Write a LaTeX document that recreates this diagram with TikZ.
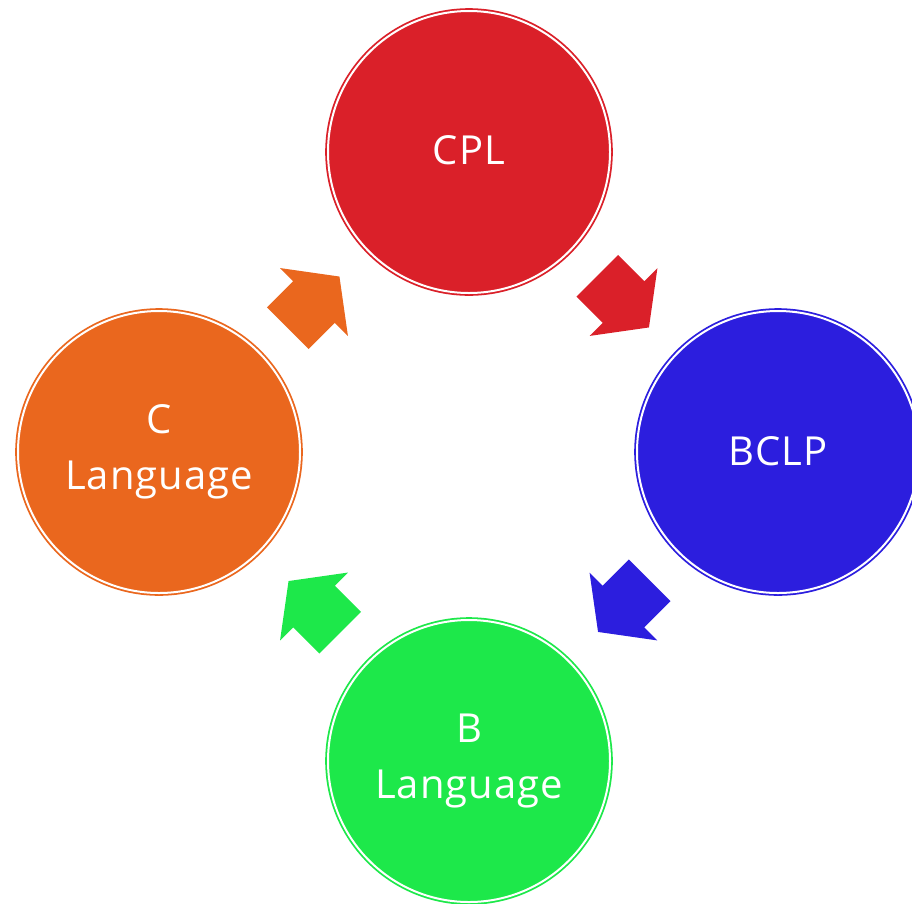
\documentclass[tikz,border=0pt]{standalone}
\usepackage{fontspec}
\setmainfont[LetterSpace=2.5]{Open Sans}
\usetikzlibrary{calc}
\definecolor{cred}{HTML}{DA2029}
\definecolor{cblue}{HTML}{2C1EDE}
\definecolor{cgreen}{HTML}{1DE84A}
\definecolor{corange}{HTML}{EA671E}
\tikzset{
  bubble/.style={circle, minimum size=282pt, inner sep=0pt, outer sep=0pt,
    fill=#1, draw=#1, double=white, double distance=2pt, line width=1.8pt,
    text=white, align=center, font=\fontsize{40}{56}\selectfont},
  blockarrow/.pic={\fill[#1] (-37,-29.5) -- (0,-29.5) -- (0,-48) -- (36,0)
    -- (0,48) -- (0,29.5) -- (-37,29.5) -- cycle;}
}
\begin{document}
\begin{tikzpicture}[x=1pt,y=-1pt]
\useasboundingbox (0,0) rectangle (912,903);
\node[bubble=cred] (cpl) at (469,152) {\raisebox{3pt}{CPL}};
\node[bubble=cblue] (bclp) at (778,452) {\raisebox{2pt}{BCLP}};
\node[bubble=cgreen] (blang) at (469,761) {B\\Language};
\node[bubble=corange] (clang) at (159,452) {C\\Language};
\pic[rotate=-45] at ($(cpl)!0.5!(bclp)$) {blockarrow=cred};
\pic[rotate=-135] at ($(bclp)!0.5!(blang)$) {blockarrow=cblue};
\pic[rotate=135] at ($(blang)!0.5!(clang)$) {blockarrow=cgreen};
\pic[rotate=45] at ($(clang)!0.5!(cpl)$) {blockarrow=corange};
\end{tikzpicture}
\end{document}
